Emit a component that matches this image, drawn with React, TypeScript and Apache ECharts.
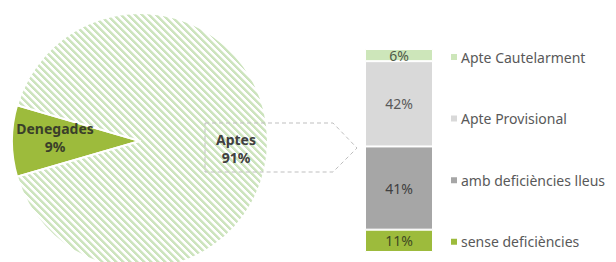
import React, { useEffect, useRef } from "react";
import * as echarts from "echarts";

const pieNames = ["Denegades", "Aptes"];
const pieValues = [9, 91];

const barCategories = ["Aptes"];
const barSeriesNames = ["sense deficiències", "amb deficiències lleus", "Apte Provisional", "Apte Cautelarment"];
const barValues = [11, 41, 42, 6];
const legendOrder = ["Apte Cautelarment", "Apte Provisional", "amb deficiències lleus", "sense deficiències"];

const barColors = ["#9dbb3c", "#a6a6a6", "#d9d9d9", "#cde6ba"];
const barLabelColors = ["#3f4a22", "#404040", "#595959", "#4f5a48"];

function makeStripes(): HTMLCanvasElement {
  const p = 7;
  const c = document.createElement("canvas");
  c.width = p;
  c.height = p;
  const ctx = c.getContext("2d")!;
  ctx.fillStyle = "#ffffff";
  ctx.fillRect(0, 0, p, p);
  for (let x = 0; x < p; x++) {
    for (let y = 0; y < p; y++) {
      const d = (((x - y) % p) + p) % p;
      if (d < 3) {
        ctx.fillStyle = "#cde4be";
        ctx.fillRect(x, y, 1, 1);
      } else if (d === 3) {
        ctx.fillStyle = "#e6f1de";
        ctx.fillRect(x, y, 1, 1);
      }
    }
  }
  return c;
}

export default function App() {
  const ref = useRef<HTMLDivElement>(null);
  useEffect(() => {
    if (!ref.current) return;
    const chart = echarts.init(ref.current, undefined, { renderer: "svg" });
    const font = "'Noto Sans', sans-serif";
    const stripes = makeStripes();
    chart.setOption({
      animation: false,
      backgroundColor: "#ffffff",
      textStyle: { fontFamily: font },
      legend: {
        data: legendOrder,
        orient: "vertical",
        left: 444,
        top: 45,
        itemWidth: 8,
        itemHeight: 8,
        itemGap: 47.6,
        icon: "rect",
        textStyle: { fontSize: 14, color: "#595959", fontFamily: font, padding: [0, 0, 0, -2] },
        selectedMode: false,
      },
      grid: { left: 365, right: 183, top: 49, bottom: 10 },
      xAxis: { type: "category", data: barCategories, show: false },
      yAxis: { type: "value", min: 0, max: 100, show: false },
      series: [
        {
          type: "pie",
          center: [140, 141],
          radius: 128,
          startAngle: 180 + (pieValues[0] / 100) * 180,
          clockwise: true,
          label: { show: false },
          labelLine: { show: false },
          itemStyle: { borderColor: "#ffffff", borderWidth: 2 },
          data: pieNames.map((n, i) =>
            i === 0
              ? { name: n, value: pieValues[i], itemStyle: { color: "#9dbb3c" } }
              : {
                  name: n,
                  value: pieValues[i],
                  itemStyle: { color: { image: stripes, repeat: "repeat" } },
                }
          ),
        },
        ...barSeriesNames.map((n, i) => ({
          type: "bar",
          name: n,
          stack: "a",
          barWidth: "100%",
          data: [barValues[i]],
          itemStyle: { color: barColors[i], borderColor: "#ffffff", borderWidth: 1 },
          label: {
            show: true,
            position: "inside",
            formatter: "{c}%",
            fontSize: 14,
            color: barLabelColors[i],
            fontFamily: font,
          },
        })),
      ],
      graphic: [
        {
          type: "polygon",
          z: 100,
          shape: {
            points: [
              [205, 123],
              [333, 123],
              [357, 148],
              [333, 172],
              [205, 172],
            ],
          },
          style: { fill: "none", stroke: "#bfbfbf", lineWidth: 1, lineDash: [4, 3] },
        },
        {
          type: "text",
          z: 101,
          x: 236,
          y: 148,
          style: {
            text: pieNames[1] + "\n" + pieValues[1] + "%",
            align: "center",
            verticalAlign: "middle",
            fontSize: 14,
            fontWeight: "bold",
            lineHeight: 18,
            fill: "#404040",
            fontFamily: font,
          },
        },
        {
          type: "text",
          z: 101,
          x: 55,
          y: 137,
          style: {
            text: pieNames[0] + "\n" + pieValues[0] + "%",
            align: "center",
            verticalAlign: "middle",
            fontSize: 14,
            fontWeight: "bold",
            lineHeight: 18,
            fill: "#3a3f2a",
            fontFamily: font,
          },
        },
      ],
    });
    return () => chart.dispose();
  }, []);
  return <div ref={ref} style={{ position: "absolute", left: 0, top: 0, width: 616, height: 262 }} />;
}
